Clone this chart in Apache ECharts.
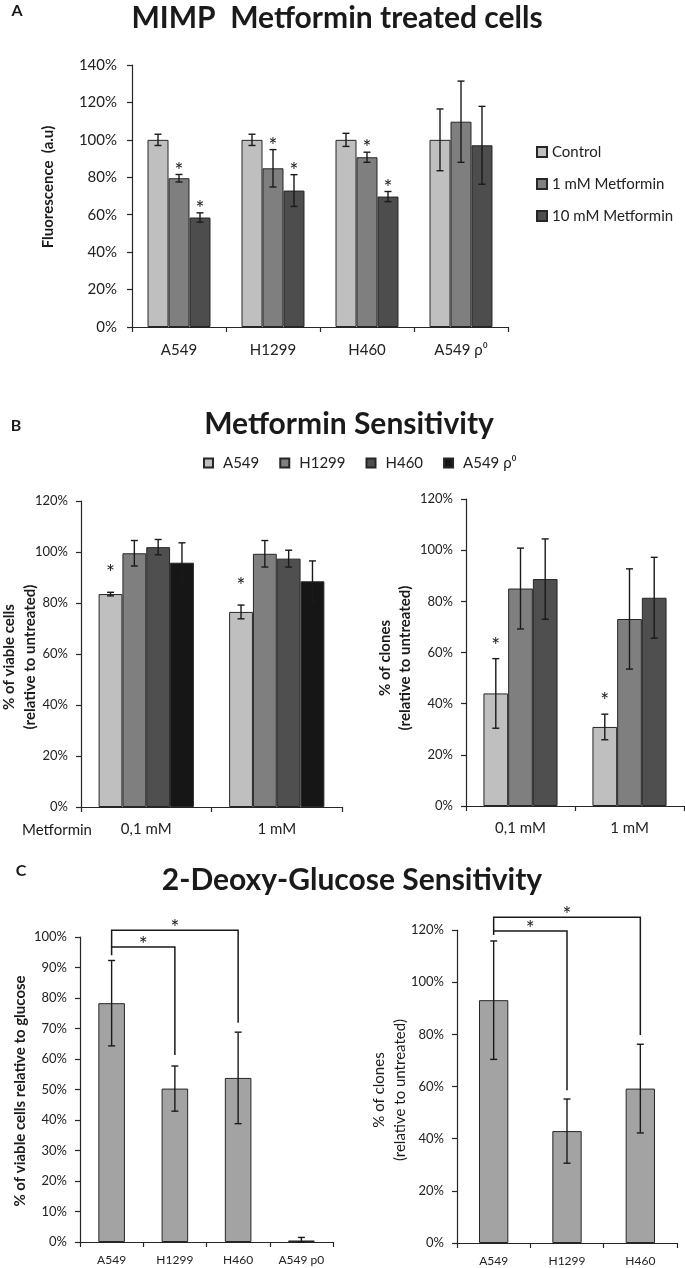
<!DOCTYPE html>
<html><head><meta charset="utf-8">
<script src="https://cdn.jsdelivr.net/npm/echarts@6/dist/echarts.min.js"></script>
<style>html,body{margin:0;padding:0;background:#fff}#c{width:685px;height:1268px}</style>
</head><body><div id="c"></div>
<script>
// ---------- Panel A data ----------
const catsA = ['A549', 'H1299', 'H460', 'A549 ρ⁰'];
const namesA = ['Control', '1 mM Metformin', '10 mM Metformin'];
const controlA = [100, 100, 100, 100];
const controlErrA = [3, 3, 3.5, 16.5];
const controlStarA = [0, 0, 0, 0];
const met1A = [79.5, 84.8, 90.7, 109.7];
const met1ErrA = [2, 10, 2.7, 21.7];
const met1StarA = [1, 1, 1, 0];
const met10A = [58.5, 72.9, 69.7, 97.1];
const met10ErrA = [2.5, 8.5, 2.7, 20.8];
const met10StarA = [1, 1, 1, 0];

// ---------- Panel B data ----------
const catsB = ['0,1 mM', '1 mM'];
const namesB = ['A549', 'H1299', 'H460', 'A549 ρ⁰'];
const viabA549 = [83.5, 76.5];   const viabA549Err = [0.7, 2.7];  const viabA549Star = [1, 1];
const viabH1299 = [99.5, 99.3];  const viabH1299Err = [5, 5.2];   const viabH1299Star = [0, 0];
const viabH460 = [101.9, 97.4];  const viabH460Err = [3, 3.3];    const viabH460Star = [0, 0];
const viabRho = [95.8, 88.5];    const viabRhoErr = [7.8, 8];     const viabRhoStar = [0, 0];
const cloneA549 = [44.0, 30.9];  const cloneA549Err = [13.6, 5];  const cloneA549Star = [1, 1];
const cloneH1299 = [85.0, 73.1]; const cloneH1299Err = [15.8, 19.6]; const cloneH1299Star = [0, 0];
const cloneH460 = [88.7, 81.4];  const cloneH460Err = [15.7, 15.8];  const cloneH460Star = [0, 0];

// ---------- Panel C data ----------
const catsC1 = ['A549', 'H1299', 'H460', 'A549 p0'];
const dgViab = [78.3, 50.3, 53.8, 0.5];
const dgViabErr = [14, 7.4, 15, 1.0];
const catsC2 = ['A549', 'H1299', 'H460'];
const dgClone = [93.1, 42.9, 59.2];
const dgCloneErr = [22.7, 12.3, 17];
// [fromCategory, toCategory, bracketLevel, fromEnd, toEnd]
const bracketsC1 = [[0, 1, 96.7, 94.0, 61.3], [0, 2, 102.2, 96.7, 71.9]];
const bracketsC2 = [[0, 1, 119.6, 118.1, 58.6], [0, 2, 124.9, 119.6, 79.7]];

// ---------- styling ----------
const FONT = 'Lato, "Noto Sans", sans-serif';
const TXT = '#222';
const AX = '#262626';
const STAR_FS = 21;

function errSeries(vals, errs, stars, n, idx, gap, starOff, grid) {
  return {
    type: 'custom', xAxisIndex: grid, yAxisIndex: grid, z: 5, clip: false, silent: true,
    encode: { x: 0, y: 1 },
    data: vals.map((v, k) => [k, v, errs[k], stars[k]]),
    renderItem: function (params, api) {
      const cat = api.value(0), v = api.value(1), e = api.value(2), s = api.value(3);
      const band = api.size([1, 0])[0];
      const bw = band * (1 - gap) / n;
      const c = api.coord([cat, v]);
      const x = c[0] + (idx - (n - 1) / 2) * bw;
      const yT = api.coord([cat, v + e])[1];
      const yB = api.coord([cat, Math.max(v - e, 0)])[1];
      const h = 3.5;
      const st = { stroke: '#1a1a1a', lineWidth: 1.4 };
      const ch = [
        { type: 'line', shape: { x1: x, y1: yT, x2: x, y2: yB }, style: st },
        { type: 'line', shape: { x1: x - h, y1: yT, x2: x + h, y2: yT }, style: st },
        { type: 'line', shape: { x1: x - h, y1: yB, x2: x + h, y2: yB }, style: st }
      ];
      if (s) ch.push({ type: 'text', style: { text: '*', x: x, y: yT - starOff, align: 'center', verticalAlign: 'middle', fontSize: STAR_FS, fontFamily: FONT, fill: TXT } });
      return { type: 'group', children: ch };
    }
  };
}

function bracketSeries(data, grid) {
  return {
    type: 'custom', xAxisIndex: grid, yAxisIndex: grid, z: 6, clip: false, silent: true,
    encode: { x: [0, 1], y: [2, 3, 4] },
    data: data,
    renderItem: function (params, api) {
      const f = api.value(0), t = api.value(1), lvl = api.value(2);
      const pF = api.coord([f, lvl]), pT = api.coord([t, lvl]);
      const yF = api.coord([f, api.value(3)])[1], yT = api.coord([t, api.value(4)])[1];
      return { type: 'group', children: [
        { type: 'polyline', shape: { points: [[pF[0], yF], [pF[0], pF[1]], [pT[0], pT[1]], [pT[0], yT]] }, style: { stroke: '#1a1a1a', lineWidth: 1.5, fill: null } },
        { type: 'text', style: { text: '*', x: (pF[0] + pT[0]) / 2, y: pF[1] - 2, align: 'center', verticalAlign: 'middle', fontSize: STAR_FS, fontFamily: FONT, fill: TXT } }
      ] };
    }
  };
}

function barSeries(name, vals, color, grid, gap) {
  return {
    type: 'bar', name: name, data: vals, xAxisIndex: grid, yAxisIndex: grid,
    barGap: '0%', barCategoryGap: gap,
    itemStyle: { color: color, borderColor: '#262626', borderWidth: 1 },
    silent: true
  };
}

function yAx(grid, max, interval, fs, margin) {
  return {
    type: 'value', gridIndex: grid, min: 0, max: max, interval: interval,
    axisLine: { show: true, lineStyle: { color: AX, width: 1.2 } },
    axisTick: { show: true, length: 5, lineStyle: { color: AX, width: 1.2 } },
    splitLine: { show: false },
    axisLabel: { formatter: '{value}%', fontSize: fs, fontFamily: FONT, color: TXT, margin: margin }
  };
}
function xAx(grid, data, fs, margin) {
  return {
    type: 'category', gridIndex: grid, data: data,
    axisLine: { show: true, lineStyle: { color: AX, width: 1.2 } },
    axisTick: { show: true, length: 5, lineStyle: { color: AX, width: 1.2 } },
    axisLabel: { fontSize: fs, fontFamily: FONT, color: TXT, margin: margin, interval: 0 }
  };
}

function txt(text, x, y, size, weight, rot, lh) {
  return { type: 'text', x: x, y: y, rotation: rot || 0, silent: true,
    style: { text: text, align: 'center', verticalAlign: 'middle', fontSize: size, fontWeight: weight, fontFamily: FONT, fill: '#1a1a1a', lineHeight: lh || size * 1.2 } };
}

const colorsA = ['#bfbfbf', '#7f7f7f', '#4d4d4d'];
const colorsB = ['#bfbfbf', '#7f7f7f', '#4f4f4f', '#161616'];
const colorC = '#a3a3a3';

const series = [];
// Panel A
const valsA = [controlA, met1A, met10A], errsA = [controlErrA, met1ErrA, met10ErrA], starsA = [controlStarA, met1StarA, met10StarA];
valsA.forEach((v, i) => series.push(barSeries(namesA[i], v, colorsA[i], 0, '33%')));
valsA.forEach((v, i) => series.push(errSeries(v, errsA[i], starsA[i], 3, i, 0.33, 3.5, 0)));
// Panel B left
const valsBL = [viabA549, viabH1299, viabH460, viabRho];
const errsBL = [viabA549Err, viabH1299Err, viabH460Err, viabRhoErr];
const starsBL = [viabA549Star, viabH1299Star, viabH460Star, viabRhoStar];
valsBL.forEach((v, i) => series.push(barSeries(namesB[i], v, colorsB[i], 1, '27%')));
valsBL.forEach((v, i) => series.push(errSeries(v, errsBL[i], starsBL[i], 4, i, 0.27, 19, 1)));
// Panel B right
const valsBR = [cloneA549, cloneH1299, cloneH460];
const errsBR = [cloneA549Err, cloneH1299Err, cloneH460Err];
const starsBR = [cloneA549Star, cloneH1299Star, cloneH460Star];
valsBR.forEach((v, i) => series.push(barSeries(namesB[i], v, colorsB[i], 2, '32%')));
valsBR.forEach((v, i) => series.push(errSeries(v, errsBR[i], starsBR[i], 3, i, 0.32, 12.5, 2)));
// Panel C
series.push(barSeries('2-DG viability', dgViab, colorC, 3, '58%'));
series.push(errSeries(dgViab, dgViabErr, [0, 0, 0, 0], 1, 0, 0.58, 0, 3));
series.push(bracketSeries(bracketsC1, 3));
series.push(barSeries('2-DG clones', dgClone, colorC, 4, '60%'));
series.push(errSeries(dgClone, dgCloneErr, [0, 0, 0], 1, 0, 0.60, 0, 4));
series.push(bracketSeries(bracketsC2, 4));

const option = {
  backgroundColor: '#fff',
  animation: false,
  textStyle: { fontFamily: FONT },
  grid: [
    { left: 132, top: 65, width: 376, height: 262 },
    { left: 81, top: 501, width: 261, height: 306 },
    { left: 466, top: 499, width: 218, height: 307 },
    { left: 80, top: 937, width: 253, height: 305 },
    { left: 457, top: 930, width: 220, height: 313 }
  ],
  xAxis: [
    xAx(0, catsA, 15, 16),
    xAx(1, catsB, 15, 15),
    xAx(2, catsB, 15, 15),
    xAx(3, catsC1, 12, 12),
    xAx(4, catsC2, 12, 12)
  ],
  yAxis: [
    yAx(0, 140, 20, 15, 15),
    yAx(1, 120, 20, 13, 13),
    yAx(2, 120, 20, 13, 13),
    yAx(3, 100, 10, 13, 13),
    yAx(4, 120, 20, 13, 13)
  ],
  legend: [
    { data: namesA, orient: 'vertical', left: 531, top: 139, itemWidth: 10, itemHeight: 10, itemGap: 16, icon: 'rect',
      selectedMode: false, textStyle: { fontSize: 15, fontFamily: FONT, color: TXT, lineHeight: 16 } },
    { data: namesB, orient: 'horizontal', left: 198, top: 450, itemWidth: 9, itemHeight: 9, itemGap: 20, icon: 'rect',
      selectedMode: false, textStyle: { fontSize: 15, fontFamily: FONT, color: TXT, lineHeight: 16, padding: [0, 0, 0, 5] } }
  ],
  graphic: [
    txt('A', 17, 11, 16, 'bold'),
    txt('MIMP  Metformin treated cells', 337, 18, 30, 'bold'),
    txt('B', 16, 426, 16, 'bold'),
    txt('Metformin Sensitivity', 349, 424, 30, 'bold'),
    txt('C', 21, 871, 16, 'bold'),
    txt('2-Deoxy-Glucose Sensitivity', 352, 880, 30, 'bold'),
    txt('Fluorescence  (a.u)', 48, 187, 15, 'bold', Math.PI / 2),
    txt('% of viable cells\n(relative to untreated)', 20, 657, 15, 'bold', Math.PI / 2, 21),
    txt('% of clones\n(relative to untreated)', 395, 658, 15, 'bold', Math.PI / 2, 20),
    txt('% of viable cells relative to glucose', 20, 1091, 15, 'bold', Math.PI / 2),
    txt('% of clones\n(relative to untreated)', 390, 1090, 15, 'normal', Math.PI / 2, 21),
    txt('Metformin', 57, 830, 15, 'normal')
  ],
  series: series
};

const chart = echarts.init(document.getElementById('c'), null, { renderer: 'canvas' });
chart.setOption(option);
</script></body></html>
